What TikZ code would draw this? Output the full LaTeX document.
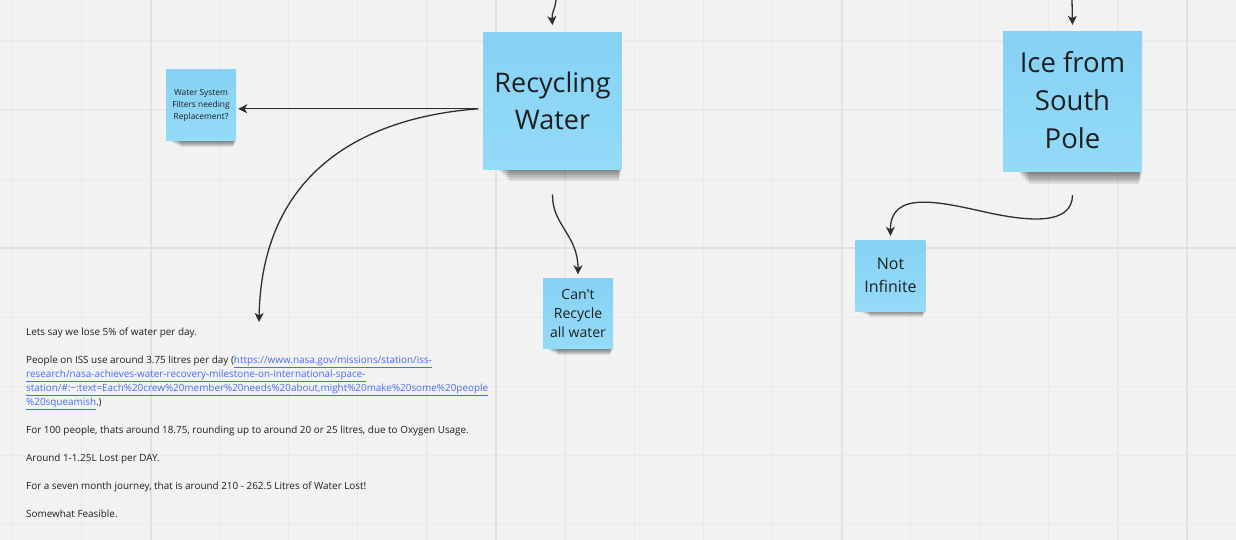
\documentclass[tikz,border=0pt]{standalone}
\usepackage{fontspec}
\usetikzlibrary{arrows.meta,calc}
\newfontfamily\boardfont{Open Sans}

\definecolor{boardbg}{HTML}{F2F2F2}
\definecolor{gridminor}{HTML}{EAEAEA}
\definecolor{gridmajor}{HTML}{E1E1E1}
\definecolor{stickytop}{HTML}{86D1F4}
\definecolor{stickybot}{HTML}{94DBF8}
\definecolor{inkdark}{HTML}{1F1F1F}
\definecolor{linkblue}{HTML}{4A6CF0}
\definecolor{wire}{HTML}{2F2F2F}

\newcommand\weblink[1]{{\color{linkblue}\underline{#1}}}

\pgfdeclarelayer{board}
\pgfdeclarelayer{shade}
\pgfsetlayers{board,shade,main}

\tikzset{
	sticky/.style = {top color = stickytop, bottom color = stickybot, inner sep = 0pt, align = center, text = inkdark},
	link/.style = {draw = wire, line width = 1.3pt, -{Stealth[length = 9pt, width = 9pt, inset = 2.5pt]}}
}

\begin{document}
\begin{tikzpicture}[x = 1pt, y = -1pt, font = \boardfont]%ISS water
	\useasboundingbox (0,0) rectangle (1236,540);
	\node[sticky, minimum width = 70pt, minimum height = 71pt, font = \boardfont\fontsize{8.4}{11.7}\selectfont] (filters) at (201,105.5) {Water System\\Filters needing\\Replacement?};
	\node[sticky, minimum width = 138pt, minimum height = 137pt, font = \boardfont\fontsize{27}{37}\selectfont] (recycle) at (552.5,100.8) {Recycling\\Water};
	\node[sticky, minimum width = 139pt, minimum height = 140pt, font = \boardfont\fontsize{27.5}{38.3}\selectfont] (ice) at (1072.5,102) {Ice from\\South\\Pole\\[-34pt]};
	\node[sticky, minimum size = 70pt, font = \boardfont\fontsize{14}{19.3}\selectfont] (cant) at (578,313.5) {Can't\\Recycle\\all water};
	\node[sticky, minimum width = 70pt, minimum height = 71pt, font = \boardfont\fontsize{16}{23.7}\selectfont] (notinf) at (890.5,275.5) {Not\\Infinite};
	\node[anchor = north west, align = left, inner sep = 0pt, text = inkdark, font = \boardfont\fontsize{9.9}{14}\selectfont] (notes) at (26,328) {%
		Lets say we lose 5\% of water per day.\\[14pt]
		People on ISS use around 3.75 litres per day (\weblink{https://www.nasa.gov/missions/station/iss-}\\
		\weblink{research/nasa-achieves-water-recovery-milestone-on-international-space-}\\
		\weblink{station/\#:\textasciitilde:text=Each\%20crew\%20member\%20needs\%20about,might\%20make\%20some\%20people}\\
		\weblink{\%20squeamish}.)\\[14pt]
		For 100 people, thats around 18.75, rounding up to around 20 or 25 litres, due to Oxygen Usage.\\[14pt]
		Around 1-1.25L Lost per DAY.\\[14pt]
		For a seven month journey, that is around 210 - 262.5 Litres of Water Lost!\\[14pt]
		Somewhat Feasible.};

	% board and grid
	\begin{pgfonlayer}{board}
		\fill[boardbg] (0,0) rectangle (1236,540);
		\foreach \i in {0,...,17}
			\draw[gridminor, line width = 1.3pt] ({12.3+69.1*\i},0) -- ++(0,540);
		\foreach \j in {-1,...,7}
			\draw[gridminor, line width = 1.3pt] (0,{41+69.1*\j}) -- ++(1236,0);
		\foreach \gx in {150.5,496,841.5,1186.5}
			\draw[gridmajor, line width = 2pt] (\gx,0) -- ++(0,540);
		\draw[gridmajor, line width = 2pt] (0,248.3) -- ++(1236,0);
	\end{pgfonlayer}

	% shadows under the notes
	\begin{pgfonlayer}{shade}
		\foreach \n/\l/\d in {filters/3/6, recycle/14/12, ice/14/12, cant/3/6, notinf/3/6}
			\foreach \k in {1,...,6}
				\fill[black, opacity = 0.09] ([xshift = {(\l+2*\k)*1pt}]\n.south west) rectangle ([xshift = {-0.5*\k*1pt}, yshift = {-\d*\k/6*1pt}]\n.south east);
	\end{pgfonlayer}

	\coordinate (recyctop) at (556,0);
	\coordinate (icetop) at (1072,0);
	\coordinate (fork) at ($(recycle.west)+(-5,8)$);
	\coordinate (notetip) at (259,322);

	\draw[link] (recyctop) .. controls (555,10) and (551.5,12) .. ([yshift = 7pt]recycle.north);
	\draw[link] (icetop) -- ([yshift = 7pt]ice.north);
	\draw[link] (fork) -- ([xshift = 2pt]fork -| filters.east);
	\draw[link] (fork) .. controls (380,116) and (262,160) .. (notetip);
	\draw[link] ([yshift = -25pt]recycle.south) .. controls (552,225) and (578,235) .. ([yshift = 4pt]cant.north);
	\draw[link] ([yshift = -23pt]ice.south) .. controls (1072,225) and (1030,222) .. (985,212) .. controls (940,202) and (890,190) .. ([yshift = 4pt]notinf.north);
\end{tikzpicture}
\end{document}
